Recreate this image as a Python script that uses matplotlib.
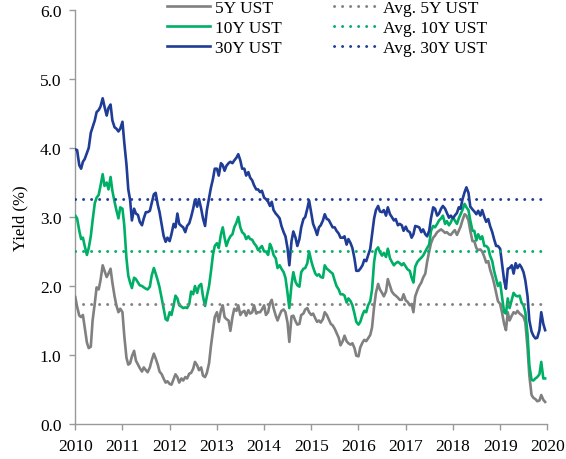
import matplotlib
matplotlib.use("Agg")
import matplotlib.pyplot as plt
import matplotlib.dates as mdates
import pandas as pd

# semi-monthly observations, Jan 2010 - Dec 2019
dates = pd.date_range("2010-01-01", periods=240, freq="SMS")

ust_30y = [
    3.98, 3.97, 3.75, 3.70, 3.80, 3.84, 3.93, 4.00, 4.22, 4.30,
    4.40, 4.52, 4.55, 4.60, 4.72, 4.60, 4.47, 4.58, 4.63, 4.40,
    4.30, 4.28, 4.24, 4.28, 4.38, 4.08, 3.76, 3.40, 3.25, 2.95,
    3.12, 3.05, 3.03, 2.93, 2.88, 2.98, 3.07, 3.07, 3.09, 3.20,
    3.33, 3.35, 3.18, 3.07, 2.88, 2.73, 2.64, 2.70, 2.65, 2.75,
    2.90, 2.85, 3.05, 2.90, 2.87, 2.85, 2.78, 2.87, 2.91, 3.00,
    3.12, 3.25, 3.15, 3.26, 3.12, 2.98, 2.87, 3.10, 3.28, 3.42,
    3.55, 3.70, 3.70, 3.60, 3.78, 3.75, 3.67, 3.74, 3.78, 3.80,
    3.78, 3.82, 3.86, 3.91, 3.82, 3.70, 3.70, 3.60, 3.65, 3.57,
    3.53, 3.46, 3.40, 3.40, 3.36, 3.38, 3.28, 3.26, 3.22, 3.16,
    3.22, 3.10, 3.05, 3.02, 2.98, 2.87, 2.78, 2.72, 2.55, 2.30,
    2.65, 2.79, 2.70, 2.58, 2.68, 2.85, 2.97, 3.00, 3.12, 3.24,
    3.05, 2.90, 2.82, 2.74, 2.85, 2.88, 2.95, 3.04, 2.97, 2.96,
    2.90, 2.85, 2.85, 2.80, 2.76, 2.70, 2.70, 2.72, 2.60, 2.68,
    2.62, 2.55, 2.40, 2.22, 2.22, 2.25, 2.30, 2.38, 2.36, 2.44,
    2.54, 2.75, 2.98, 3.10, 3.16, 3.08, 3.07, 3.10, 3.02, 3.14,
    3.04, 3.00, 2.95, 2.97, 2.88, 2.90, 2.88, 2.80, 2.86, 2.80,
    2.78, 2.70, 2.75, 2.87, 2.86, 2.85, 2.78, 2.82, 2.75, 2.72,
    2.80, 2.98, 3.14, 3.12, 3.02, 3.05, 3.12, 3.16, 3.12, 3.06,
    2.99, 3.02, 2.98, 3.02, 3.06, 3.14, 3.12, 3.25, 3.36, 3.43,
    3.35, 3.15, 3.11, 3.08, 3.04, 3.09, 3.02, 3.10, 3.00, 2.93,
    2.97, 2.87, 2.78, 2.68, 2.58, 2.58, 2.54, 2.33, 2.08, 1.96,
    2.25, 2.26, 2.30, 2.18, 2.33, 2.26, 2.31, 2.27, 2.20, 2.08,
    1.85, 1.50, 1.34, 1.28, 1.24, 1.25, 1.36, 1.62, 1.45, 1.36,
]

ust_10y = [
    3.02, 2.98, 2.80, 2.68, 2.70, 2.58, 2.45, 2.55, 2.72, 2.95,
    3.20, 3.28, 3.32, 3.45, 3.62, 3.45, 3.50, 3.40, 3.58, 3.38,
    3.22, 3.10, 2.98, 3.14, 3.12, 2.88, 2.40, 2.15, 2.05, 1.97,
    2.12, 2.10, 2.05, 2.01, 2.00, 1.98, 1.96, 1.95, 1.99, 2.15,
    2.26, 2.18, 2.08, 1.98, 1.82, 1.68, 1.52, 1.50, 1.62, 1.58,
    1.72, 1.86, 1.82, 1.72, 1.70, 1.68, 1.69, 1.68, 1.74, 1.92,
    1.88, 2.00, 1.90, 2.00, 2.03, 1.85, 1.71, 1.85, 2.00, 2.20,
    2.45, 2.58, 2.62, 2.55, 2.75, 2.85, 2.70, 2.58, 2.67, 2.72,
    2.75, 2.85, 2.92, 3.00, 2.85, 2.78, 2.75, 2.68, 2.72, 2.68,
    2.67, 2.62, 2.58, 2.52, 2.55, 2.58, 2.50, 2.50, 2.45, 2.61,
    2.55, 2.45, 2.40, 2.26, 2.30, 2.25, 2.20, 2.12, 1.90, 1.68,
    2.02, 2.20, 2.06, 2.01, 1.99, 2.20, 2.25, 2.26, 2.33, 2.50,
    2.36, 2.27, 2.18, 2.15, 2.17, 2.13, 2.12, 2.30, 2.25, 2.23,
    2.20, 2.18, 2.08, 2.00, 1.95, 1.88, 1.88, 1.86, 1.76, 1.82,
    1.78, 1.72, 1.60, 1.48, 1.44, 1.48, 1.58, 1.64, 1.62, 1.72,
    1.78, 1.95, 2.35, 2.52, 2.56, 2.49, 2.44, 2.48, 2.42, 2.54,
    2.40, 2.35, 2.30, 2.33, 2.35, 2.33, 2.30, 2.33, 2.28, 2.24,
    2.22, 2.12, 2.05, 2.28, 2.35, 2.38, 2.41, 2.44, 2.50, 2.55,
    2.60, 2.80, 2.87, 2.85, 2.90, 2.95, 2.98, 3.02, 2.90, 2.94,
    2.88, 2.92, 3.00, 2.95, 2.90, 2.98, 3.04, 3.10, 3.19, 3.14,
    3.10, 2.95, 2.80, 2.80, 2.66, 2.75, 2.68, 2.72, 2.58, 2.58,
    2.55, 2.44, 2.36, 2.22, 2.10, 2.00, 2.05, 1.85, 1.62, 1.60,
    1.82, 1.68, 1.80, 1.90, 1.86, 1.85, 1.86, 1.76, 1.72, 1.62,
    1.30, 0.85, 0.64, 0.63, 0.66, 0.68, 0.72, 0.90, 0.66, 0.66,
]

ust_5y = [
    1.84, 1.70, 1.57, 1.55, 1.58, 1.40, 1.18, 1.10, 1.12, 1.50,
    1.75, 1.98, 1.95, 2.08, 2.30, 2.22, 2.13, 2.18, 2.25, 2.05,
    1.85, 1.72, 1.62, 1.67, 1.62, 1.28, 0.96, 0.86, 0.88, 0.98,
    1.06, 0.92, 0.86, 0.81, 0.76, 0.82, 0.78, 0.75, 0.82, 0.92,
    1.02, 0.95, 0.86, 0.76, 0.72, 0.66, 0.60, 0.62, 0.58, 0.57,
    0.65, 0.72, 0.68, 0.60, 0.66, 0.63, 0.68, 0.66, 0.73, 0.74,
    0.80, 0.90, 0.85, 0.78, 0.82, 0.70, 0.68, 0.74, 0.88, 1.12,
    1.35, 1.55, 1.62, 1.48, 1.65, 1.72, 1.55, 1.52, 1.50, 1.35,
    1.55, 1.67, 1.64, 1.72, 1.58, 1.62, 1.64, 1.57, 1.65, 1.60,
    1.62, 1.72, 1.60, 1.62, 1.62, 1.66, 1.72, 1.58, 1.62, 1.75,
    1.80, 1.68, 1.57, 1.50, 1.58, 1.64, 1.66, 1.62, 1.47, 1.19,
    1.56, 1.57, 1.49, 1.44, 1.45, 1.58, 1.60, 1.66, 1.68, 1.62,
    1.58, 1.60, 1.53, 1.48, 1.50, 1.47, 1.52, 1.62, 1.58, 1.52,
    1.45, 1.43, 1.38, 1.32, 1.25, 1.14, 1.20, 1.28, 1.20, 1.17,
    1.15, 1.17, 1.10, 0.99, 0.98, 1.11, 1.18, 1.22, 1.20, 1.24,
    1.29, 1.40, 1.70, 1.90, 2.03, 1.95, 1.90, 1.85, 1.92, 2.10,
    2.00, 1.92, 1.88, 1.86, 1.83, 1.80, 1.80, 1.88, 1.79, 1.77,
    1.72, 1.74, 1.62, 1.85, 1.94, 2.00, 2.05, 2.12, 2.18, 2.35,
    2.50, 2.62, 2.70, 2.73, 2.78, 2.80, 2.82, 2.80, 2.77, 2.78,
    2.75, 2.74, 2.78, 2.81, 2.74, 2.80, 2.86, 2.95, 3.04, 3.02,
    2.95, 2.80, 2.65, 2.65, 2.55, 2.52, 2.53, 2.50, 2.42, 2.34,
    2.36, 2.24, 2.14, 2.04, 1.90, 1.78, 1.74, 1.62, 1.45, 1.36,
    1.62, 1.50, 1.57, 1.62, 1.60, 1.64, 1.60, 1.58, 1.55, 1.47,
    1.10, 0.70, 0.42, 0.38, 0.36, 0.33, 0.34, 0.42, 0.35, 0.32,
]

# period averages (5Y, 10Y, 30Y)
averages = [1.74, 2.51, 3.26]
labels = ["5Y UST", "10Y UST", "30Y UST"]
colors = ["#808080", "#00AF66", "#1F3C96"]

plt.rcParams["font.family"] = ["Liberation Serif", "DejaVu Serif"]
plt.rcParams["font.size"] = 12

fig = plt.figure(figsize=(5.66, 4.60), dpi=100)
ax = fig.add_axes([0.1330, 0.0761, 0.8340, 0.9000])

series = [ust_5y, ust_10y, ust_30y]
for vals, lab, col in zip(series, labels, colors):
    ax.plot(dates, vals, color=col, lw=1.9, label=lab, zorder=3)

for avg, lab, col in zip(averages, labels, colors):
    ax.plot([dates[0], dates[-1]], [avg, avg], color=col, lw=2.1,
            linestyle=(0, (0.05, 2.7)), dash_capstyle="round",
            label="Avg. " + lab, zorder=4)

ax.set_ylim(0, 6)
ax.set_yticks([0, 1, 2, 3, 4, 5, 6])
ax.set_yticklabels([f"{v:.1f}" for v in range(7)])
ax.set_xlim(pd.Timestamp("2010-01-01"), pd.Timestamp("2020-01-01"))
ax.xaxis.set_major_locator(mdates.YearLocator())
ax.xaxis.set_major_formatter(mdates.DateFormatter("%Y"))
ax.set_ylabel("Yield (%)", labelpad=8)

for s in ["top", "right"]:
    ax.spines[s].set_visible(False)
for s in ["left", "bottom"]:
    ax.spines[s].set_color("#999999")
    ax.spines[s].set_linewidth(1.0)
ax.tick_params(axis="both", colors="#999999", labelcolor="black",
               length=4, width=1.0, labelsize=12.5)
ax.tick_params(axis="y", pad=6)
ax.tick_params(axis="x", pad=6)

fig.legend(loc="upper left", bbox_to_anchor=(0.267, 1.032), ncol=2,
           frameon=False, fontsize=12.5, handlelength=2.5,
           handletextpad=0.3, columnspacing=3.0, labelspacing=0.22)

fig.savefig("out.png", dpi=100)
